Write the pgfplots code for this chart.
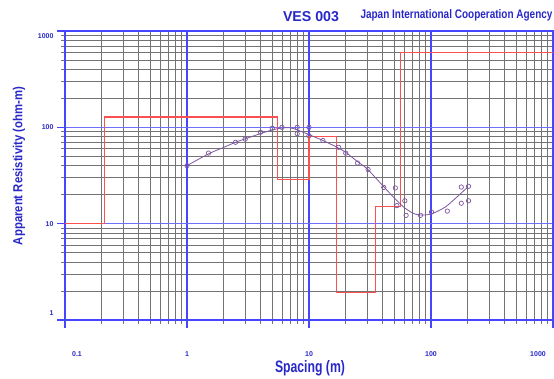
\documentclass[border=0pt]{standalone}
\usepackage{fontspec}
\setmainfont{Liberation Sans}
\usepackage{graphicx}
\usepackage{pgfplots}
\pgfplotsset{compat=1.18}
\definecolor{lblue}{RGB}{40,40,200}
\definecolor{gblue}{RGB}{70,70,255}
\definecolor{hblue}{RGB}{110,110,255}
\definecolor{mred}{RGB}{250,80,80}
\definecolor{mpurple}{RGB}{125,85,160}
\begin{document}
\begin{tikzpicture}[x=1pt,y=1pt]
\path[use as bounding box] (-65,-58) rectangle (489,320);
\begin{axis}[
  at={(0,0)}, anchor=south west,
  scale only axis, width=488pt, height=289pt,
  xmode=log, ymode=log,
  xmin=0.1, xmax=1000, ymin=1, ymax=1000,
  axis line style={draw=gblue, line width=1.1pt},
  xminorgrids, yminorgrids,
  minor grid style={black!55, line width=0.6pt},
  tick align=outside,
  xtick pos=left, ytick pos=left,
  major tick length=8pt, minor tick length=4pt,
  every major tick/.append style={gblue, line width=1.1pt},
  every minor tick/.append style={black!55, line width=0.6pt},
  xtick={0.1,1,10,100,1000},
  minor xtick={0.2,0.3,0.4,0.5,0.6,0.7,0.8,0.9,2,3,4,5,6,7,8,9,20,30,40,50,60,70,80,90,200,300,400,500,600,700,800,900},
  xticklabels={{\hspace*{24pt}0.1},1,10,100,{1000\hspace*{30pt}}},
  ytick={1,10,100,1000},
  minor ytick={2,3,4,5,6,7,8,9,20,30,40,50,60,70,80,90,200,300,400,500,600,700,800,900},
  yticklabels={{\smash{\raisebox{5pt}{1}}},{\smash{\raisebox{-2.5pt}{10}}},{\smash{\raisebox{-2.5pt}{100}}},{\smash{\raisebox{-7.5pt}{1000}}}},
  ticklabel style={font=\fontsize{7}{8}\selectfont\bfseries, text=lblue},
  xticklabel style={yshift=-20pt},
]
% major grid lines (decades) in blue
\draw[gblue, line width=1.1pt] (axis cs:1,1) -- (axis cs:1,1000);
\draw[gblue, line width=1.1pt] (axis cs:10,1) -- (axis cs:10,1000);
\draw[gblue, line width=1.1pt] (axis cs:100,1) -- (axis cs:100,1000);
\draw[hblue, line width=1.2pt] (axis cs:0.1,10) -- (axis cs:1000,10);
\draw[hblue, line width=1.2pt] (axis cs:0.1,100) -- (axis cs:1000,100);
\draw[gblue, line width=1.2pt] (rel axis cs:0,0) rectangle (rel axis cs:1,1);
% layered model
\addplot[mred, line width=1.1pt] coordinates {
  (0.1,10) (0.21,10) (0.21,128) (5.5,128) (5.5,29) (10,29) (10,80)
  (16.7,80) (16.7,1.95) (34.8,1.95) (34.8,15) (56,15) (56,600) (1000,600)};
% calculated curve
\addplot[mpurple, line width=0.8pt, smooth] coordinates {
  (1,40) (1.5,53) (2,62) (2.5,70) (3,76) (4,86) (5,94) (6,98.5) (7,99)
  (8,94) (10,84) (13,73) (17,62) (20,55) (25,44) (30,37) (40,25)
  (50,18.5) (60,14.8) (70,13) (80,12.3) (100,12.6) (130,14.8) (160,18.5) (200,24)};
% observed
\addplot[only marks, mark=o, mark size=2.2pt, mpurple, mark options={line width=0.7pt}] coordinates {
  (1,40) (1.5,54) (2.5,70) (3,75.5) (4,89) (5,98) (6,100) (8,100) (10,100)
  (8,86) (10,82) (13,73) (17.5,62) (20,54) (25,42.6) (30.5,36.5) (41,23.8)
  (51,23.5) (52.5,15.4) (61,17.3) (62.5,12.2) (82,12.2) (101,13.2) (136,13.5)
  (177,24) (203,24.4) (177,16.3) (203,17.3)};
\end{axis}
\node[anchor=base, text=lblue, inner sep=0] at (246,298) {\resizebox{56pt}{10pt}{\bfseries VES 003}};
\node[anchor=base, text=lblue, inner sep=0] at (391.5,301.5) {\resizebox{192pt}{9pt}{\bfseries Japan International Cooperation Agency}};
\node[anchor=base, text=lblue, inner sep=0] at (245,-52.7) {\resizebox{70pt}{12pt}{\bfseries Spacing (m)}};
\node[rotate=90, text=lblue, inner sep=0] at (-46,154) {\resizebox{158pt}{9.5pt}{\bfseries Apparent Resistivity (ohm-m)}};
\end{tikzpicture}
\end{document}
